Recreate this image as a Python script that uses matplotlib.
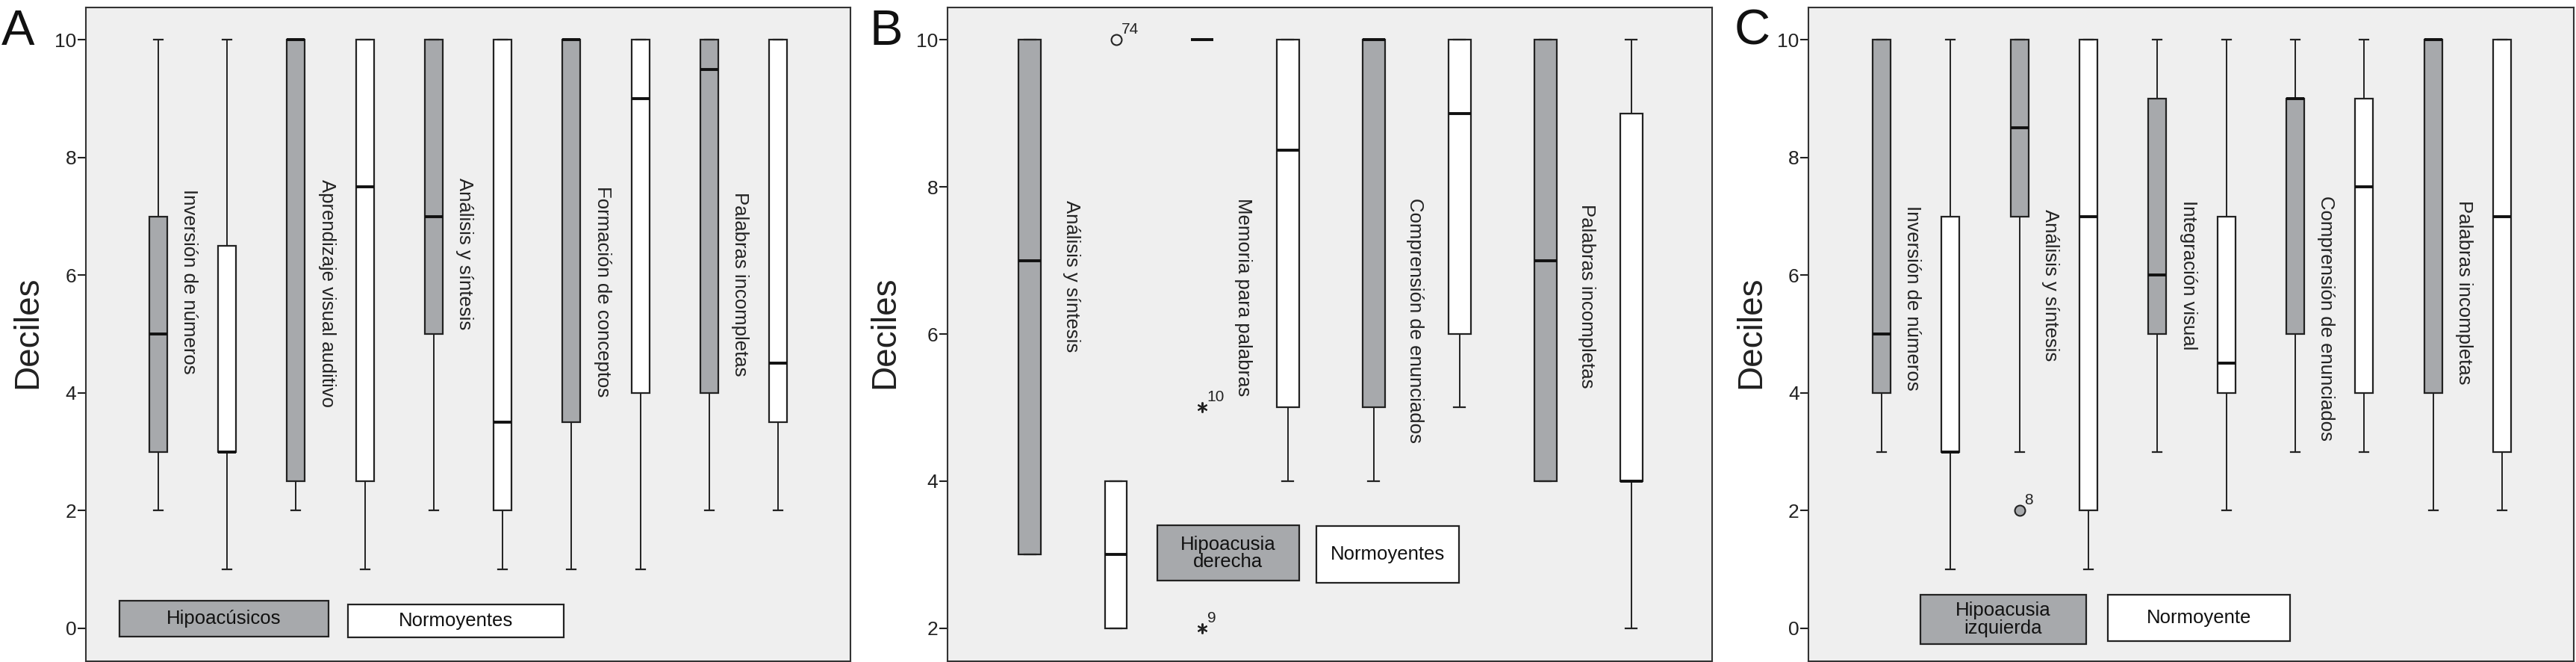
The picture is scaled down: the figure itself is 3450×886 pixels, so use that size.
import matplotlib.pyplot as plt
from matplotlib.patches import Rectangle

plt.rcParams['font.family'] = ['Liberation Sans', 'DejaVu Sans']

# box summaries per test, one tuple per box: (min, q1, median, q3, max)

# panel A
a_tests = ["Inversión de números", "Aprendizaje visual auditivo", "Análisis y síntesis",
           "Formación de conceptos", "Palabras incompletas"]
a_hipo = [(2, 3, 5, 7, 10), (2, 2.5, 10, 10, 10), (2, 5, 7, 10, 10),
          (1, 3.5, 10, 10, 10), (2, 4, 9.5, 10, 10)]
a_normo = [(1, 3, 3, 6.5, 10), (1, 2.5, 7.5, 10, 10), (1, 2, 3.5, 10, 10),
           (1, 4, 9, 10, 10), (2, 3.5, 4.5, 10, 10)]
a_groups = ["Hipoacúsicos", "Normoyentes"]

# panel B
b_tests = ["Análisis y síntesis", "Memoria para palabras", "Comprensión de enunciados",
           "Palabras incompletas"]
b_hipo = [(3, 3, 7, 10, 10), (10, 10, 10, 10, 10), (4, 5, 10, 10, 10), (4, 4, 7, 10, 10)]
b_normo = [(2, 2, 3, 4, 4), (4, 5, 8.5, 10, 10), (5, 6, 9, 10, 10), (2, 4, 4, 9, 10)]
b_groups = ["Hipoacusia\nderecha", "Normoyentes"]
b_out_box = [2, 3, 3]
b_out_val = [10, 5, 2]
b_out_id = ["74", "10", "9"]
b_out_marker = ["o", (6, 2, 0), (6, 2, 0)]

# panel C
c_tests = ["Inversión de números", "Análisis y síntesis", "Integración visual",
           "Comprensión de enunciados", "Palabras incompletas"]
c_hipo = [(3, 4, 5, 10, 10), (3, 7, 8.5, 10, 10), (3, 5, 6, 9, 10),
          (3, 5, 9, 9, 10), (2, 4, 10, 10, 10)]
c_normo = [(1, 3, 3, 7, 10), (1, 2, 7, 10, 10), (2, 4, 4.5, 7, 10),
           (3, 4, 7.5, 9, 10), (2, 3, 7, 10, 10)]
c_groups = ["Hipoacusia\nizquierda", "Normoyente"]
c_out_box = [3]
c_out_val = [2]
c_out_id = ["8"]
c_out_marker = ["o"]

GRAY = '#a7a9ac'
EDGE = '#222222'
BG = '#efefef'
W, H = 3450, 886

fig = plt.figure(figsize=(W / 100, H / 100), dpi=100)


def panel(left, width, letter, letter_x, tests, hipo, normo, groups,
          label_top, label_dx, yticks, ylim, xlim, leg_boxes, ylabel_x,
          out_box=(), out_val=(), out_id=(), out_marker=(), out_face='none'):
    ax = fig.add_axes([left / W, 1 / H, width / W, 875 / H])
    ax.set_facecolor(BG)

    stats = []
    for h, n in zip(hipo, normo):
        for s in (h, n):
            stats.append({'whislo': s[0], 'q1': s[1], 'med': s[2], 'q3': s[3],
                          'whishi': s[4], 'fliers': []})
    bp = ax.bxp(stats, positions=range(1, len(stats) + 1), widths=0.26,
                patch_artist=True, showfliers=False,
                boxprops=dict(edgecolor=EDGE, linewidth=1.6),
                medianprops=dict(color='#111111', linewidth=2.8, solid_capstyle='butt'),
                whiskerprops=dict(color=EDGE, linewidth=1.4),
                capprops=dict(color=EDGE, linewidth=1.6))
    for i, box in enumerate(bp['boxes']):
        box.set_facecolor(GRAY if i % 2 == 0 else 'white')

    # outliers with case numbers
    for bx, v, cid, m in zip(out_box, out_val, out_id, out_marker):
        ax.plot([bx], [v], marker=m, markersize=10, markerfacecolor=out_face,
                markeredgecolor=EDGE, markeredgewidth=1.5, linestyle='none', zorder=4)
        ax.annotate(cid, (bx, v), xytext=(5, 3), textcoords='offset points',
                    ha='left', va='bottom', fontsize=15, color='#222222')

    # test names, rotated, next to each hipoacusia box
    for i, t in enumerate(tests):
        ax.text(2 * i + 1 + label_dx, label_top[i], t, rotation=-90, ha='center',
                va='top', fontsize=18.5, color='#222222')

    # legend boxes inside the plot
    for (x0, y0, x1, y1), name, fc in zip(leg_boxes, groups, [GRAY, 'white']):
        ax.add_patch(Rectangle((x0, y0), x1 - x0, y1 - y0, transform=ax.transAxes,
                               facecolor=fc, edgecolor=EDGE, linewidth=1.6, zorder=5))
        ax.text((x0 + x1) / 2, (y0 + y1) / 2, name, transform=ax.transAxes,
                ha='center', va='center', fontsize=18.5, linespacing=0.95,
                color='#111111', zorder=6)

    ax.set_xlim(xlim)
    ax.set_ylim(ylim)
    ax.set_xticks([])
    ax.set_yticks(yticks)
    ax.tick_params(axis='y', direction='out', length=8, width=1.5, labelsize=19,
                   pad=1, colors='#222222')
    for sp in ax.spines.values():
        sp.set_linewidth(1.5)
        sp.set_color('#333333')

    ax.text(ylabel_x, 0.503, 'Deciles', transform=ax.transAxes, rotation=90,
            ha='center', va='center', fontsize=33, color='#222222')
    fig.text(letter_x / W, 1 - 60 / H, letter, fontsize=48, va='baseline',
             color='#111111')
    return ax


panel(115, 1024, 'A', 2, a_tests, a_hipo, a_normo, a_groups,
      [7.46, 7.63, 7.66, 7.52, 7.41], 0.45, range(0, 11, 2), (-0.56, 10.55),
      (-0.05, 11.05),
      [(0.044, 0.038, 0.317, 0.093), (0.343, 0.037, 0.625, 0.087)], -0.076)

panel(1269, 1024, 'B', 1165, b_tests, b_hipo, b_normo, b_groups,
      [7.82, 7.85, 7.85, 7.77], 0.48, range(2, 11, 2), (1.55, 10.44),
      (0.04, 8.94),
      [(0.274, 0.123, 0.460, 0.208), (0.482, 0.120, 0.669, 0.207)], -0.082,
      b_out_box, b_out_val, b_out_id, b_out_marker, 'none')

panel(2422, 1025, 'C', 2323, c_tests, c_hipo, c_normo, c_groups,
      [7.18, 7.12, 7.27, 7.35, 7.28], 0.45, range(0, 11, 2), (-0.56, 10.55),
      (-0.06, 11.04),
      [(0.146, 0.026, 0.363, 0.102), (0.391, 0.031, 0.629, 0.102)], -0.075,
      c_out_box, c_out_val, c_out_id, c_out_marker, GRAY)

fig.savefig('out.png', dpi=100, facecolor='white')
